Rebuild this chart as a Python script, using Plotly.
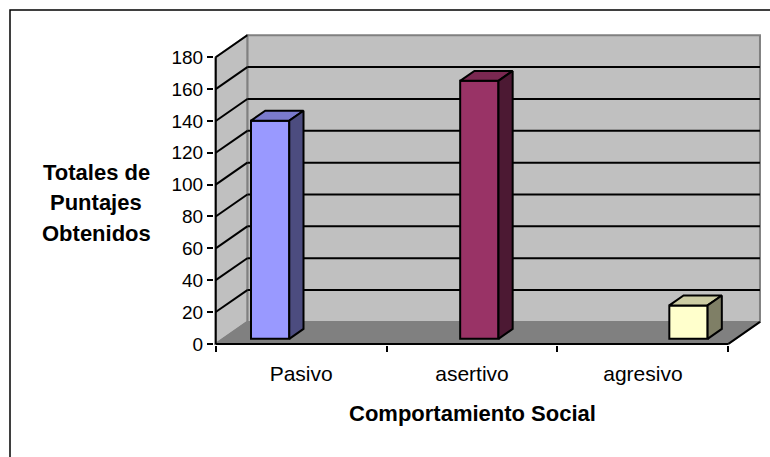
import plotly.graph_objects as go

# ---- data -------------------------------------------------------------
categories = ["Pasivo", "asertivo", "agresivo"]
totals = [137, 162, 21]
y_ticks = [0, 20, 40, 60, 80, 100, 120, 140, 160, 180]
y_title_lines = ["Totales de", "Puntajes", "Obtenidos"]
x_title = "Comportamiento Social"
face_colors = ["#9999FF", "#993366", "#FFFFCC"]

# ---- pseudo 3-D geometry (axis units) ---------------------------------
Y_MAX = 180
X_LEFT, X_RIGHT = -0.5, len(categories) - 0.5
DEPTH_X = 0.185      # horizontal shift of the back plane, category units
DEPTH_Y = 13.8       # vertical shift of the back plane, value units
BAR_W = 0.224
BAR_FRONT = 0.23     # depth fraction of the bar front face
BAR_BACK = 0.68      # depth fraction of the bar back face

WALL = "#C0C0C0"
FLOOR = "#808080"
EDGE = "#808080"
FONT = "Liberation Sans, Arial"

# ---- figure size / margins --------------------------------------------
W, H = 770, 457
M_L, M_R, M_T, M_B = 214, 9, 34, 112
X_RANGE = [X_LEFT - 0.01, X_RIGHT + DEPTH_X + 0.006]
Y_RANGE = [-0.7, Y_MAX + DEPTH_Y + 0.8]
PW, PH = W - M_L - M_R, H - M_T - M_B


def px_x(p):
    return (p - M_L) / PW


def px_y(p):
    return (H - M_B - p) / PH


def shade(hex_color, k):
    h = hex_color.lstrip("#")
    r, g, b = (int(h[i:i + 2], 16) for i in (0, 2, 4))
    return "#%02x%02x%02x" % (int(r * k), int(g * k), int(b * k))


def poly(points):
    return "M " + " L ".join(f"{x},{y}" for x, y in points) + " Z"


shapes = []

# back wall
shapes.append(dict(type="rect", xref="x", yref="y", layer="below",
                   x0=X_LEFT + DEPTH_X, x1=X_RIGHT + DEPTH_X,
                   y0=DEPTH_Y, y1=Y_MAX + DEPTH_Y,
                   fillcolor=WALL, line=dict(color=EDGE, width=2)))
# side wall
shapes.append(dict(type="path", xref="x", yref="y", layer="below",
                   path=poly([(X_LEFT, 0), (X_LEFT, Y_MAX),
                              (X_LEFT + DEPTH_X, Y_MAX + DEPTH_Y),
                              (X_LEFT + DEPTH_X, DEPTH_Y)]),
                   fillcolor=WALL, line=dict(color=EDGE, width=2)))
# floor
shapes.append(dict(type="path", xref="x", yref="y", layer="below",
                   path=poly([(X_LEFT, 0), (X_RIGHT, 0),
                              (X_RIGHT + DEPTH_X, DEPTH_Y),
                              (X_LEFT + DEPTH_X, DEPTH_Y)]),
                   fillcolor=FLOOR, line=dict(color=EDGE, width=1.5)))

# gridlines on the back wall and the side wall
for v in y_ticks[1:-1]:
    shapes.append(dict(type="line", xref="x", yref="y", layer="below",
                       x0=X_LEFT + DEPTH_X, x1=X_RIGHT + DEPTH_X,
                       y0=v + DEPTH_Y, y1=v + DEPTH_Y,
                       line=dict(color="black", width=2)))
for v in y_ticks[1:]:
    shapes.append(dict(type="line", xref="x", yref="y", layer="below",
                       x0=X_LEFT, x1=X_LEFT + DEPTH_X,
                       y0=v, y1=v + DEPTH_Y,
                       line=dict(color="black", width=2)))

# front axis lines and the right floor edge
shapes.append(dict(type="line", xref="x", yref="y", layer="below",
                   x0=X_LEFT, x1=X_LEFT, y0=0, y1=Y_MAX,
                   line=dict(color="black", width=2)))
shapes.append(dict(type="line", xref="x", yref="y", layer="below",
                   x0=X_LEFT, x1=X_RIGHT, y0=0, y1=0,
                   line=dict(color="black", width=2)))
shapes.append(dict(type="line", xref="x", yref="y", layer="below",
                   x0=X_RIGHT, x1=X_RIGHT + DEPTH_X, y0=0, y1=DEPTH_Y,
                   line=dict(color="black", width=2)))

# chart area border
shapes.append(dict(type="rect", xref="paper", yref="paper", layer="above",
                   x0=px_x(10), x1=px_x(800), y0=px_y(10), y1=px_y(520),
                   line=dict(color="black", width=1.5), fillcolor="rgba(0,0,0,0)"))

fig = go.Figure()

# bar positions: one slot per series inside its category
xs = [i + (i - 1) * BAR_W for i in range(len(categories))]
fx0, fy0 = BAR_FRONT * DEPTH_X, BAR_FRONT * DEPTH_Y
bx0, by0 = BAR_BACK * DEPTH_X, BAR_BACK * DEPTH_Y

# front faces
fig.add_trace(go.Bar(
    x=[x + fx0 for x in xs], y=totals, base=[fy0] * len(totals),
    width=BAR_W, marker=dict(color=face_colors, line=dict(color="black", width=2)),
    hoverinfo="skip"))

# top and side faces
for x, v, c in zip(xs, totals, face_colors):
    xl, xr = x - BAR_W / 2, x + BAR_W / 2
    top = [(xl + fx0, v + fy0), (xr + fx0, v + fy0),
           (xr + bx0, v + by0), (xl + bx0, v + by0), (xl + fx0, v + fy0)]
    side = [(xr + fx0, fy0), (xr + bx0, by0), (xr + bx0, v + by0),
            (xr + fx0, v + fy0), (xr + fx0, fy0)]
    for pts, k in ((top, 0.8), (side, 0.5)):
        fig.add_trace(go.Scatter(
            x=[p[0] for p in pts], y=[p[1] for p in pts],
            mode="lines", fill="toself", fillcolor=shade(c, k),
            line=dict(color="black", width=2), hoverinfo="skip"))

annotations = []
for j, line in enumerate(y_title_lines):
    annotations.append(dict(xref="paper", yref="paper", x=px_x(96),
                            y=px_y(172 + 30.5 * j), text=f"<b>{line}</b>",
                            showarrow=False, xanchor="center", yanchor="middle",
                            font=dict(family=FONT, size=22, color="black")))
annotations.append(dict(xref="paper", yref="paper", x=px_x(472), y=px_y(413),
                        text=f"<b>{x_title}</b>", showarrow=False,
                        xanchor="center", yanchor="middle",
                        font=dict(family=FONT, size=22, color="black")))

fig.update_layout(
    width=W, height=H,
    margin=dict(l=M_L, r=M_R, t=M_T, b=M_B, pad=0),
    paper_bgcolor="white", plot_bgcolor="white",
    showlegend=False, hovermode=False,
    shapes=shapes, annotations=annotations,
    font=dict(family=FONT, size=19, color="black"),
    xaxis=dict(range=X_RANGE, showgrid=False, zeroline=False, showline=False,
               tickmode="array", tickvals=list(range(len(categories))),
               ticktext=categories, ticks="outside", ticklen=10,
               tickcolor="rgba(0,0,0,0)", tickfont=dict(size=21),
               minor=dict(tickmode="array",
                          tickvals=[X_LEFT + i for i in range(len(categories) + 1)],
                          ticks="outside", ticklen=6, tickwidth=2,
                          tickcolor="black", showgrid=False),
               fixedrange=True),
    yaxis=dict(range=Y_RANGE, showgrid=False, zeroline=False, showline=False,
               tickmode="array", tickvals=y_ticks, ticks="outside",
               ticklen=6, tickwidth=2, tickcolor="black",
               tickfont=dict(size=19), fixedrange=True),
)

fig.write_html("out.html")
